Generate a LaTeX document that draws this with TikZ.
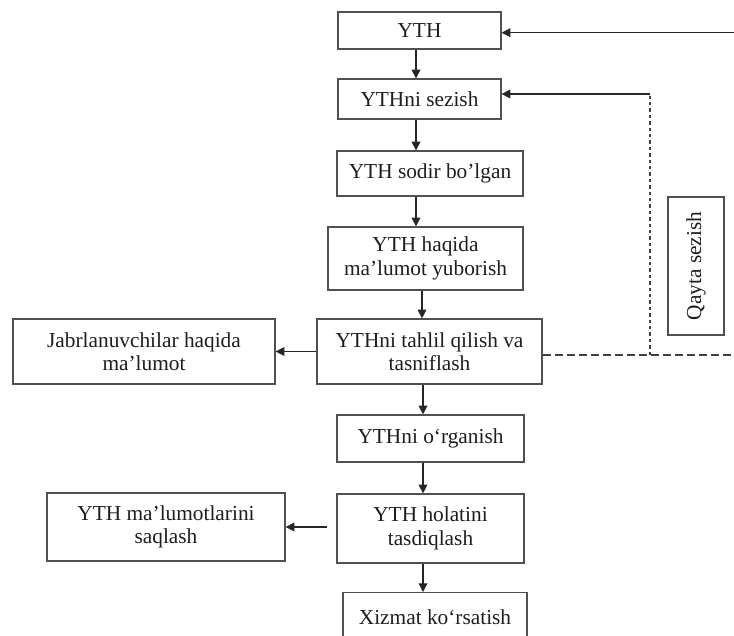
\documentclass[tikz,border=0pt]{standalone}
\usepackage{fontspec}
\setmainfont{Liberation Serif}
\usetikzlibrary{arrows.meta}
\newcommand\myu{0.75pt}
\definecolor{linec}{HTML}{505050}
\definecolor{textc}{HTML}{1E1E1E}
\begin{document}
\begin{tikzpicture}[x=0.75pt,y=-0.75pt,
  box/.style={draw=linec, line width=0.9pt, align=center, inner sep=0pt, text=textc,
    font=\fontsize{16}{17.5}\selectfont},
  arr/.style={draw=black!85, line width=0.9pt, -{Triangle[length=6.5pt,width=6.5pt]}},
  dashH/.style={draw=black!75, line width=1.3pt, dash pattern=on 6pt off 3pt},
  dashV/.style={draw=black!75, line width=1.5pt, dash pattern=on 2.6pt off 2.2pt}]
\useasboundingbox (0,0) rectangle (734,635);
\clip (0,0) rectangle (734,635);
\fill[white] (0,0) rectangle (734,635);

\node[box, minimum width=163*\myu, minimum height=37*\myu] (yth) at (419.5,30.5) {YTH};
\node[box, minimum width=163*\myu, minimum height=40*\myu] (sez) at (419.5,99) {YTHni sezish};
\node[box, minimum width=186*\myu, minimum height=45*\myu] (sodir) at (430,173.5) {YTH sodir bo’lgan};
\node[box, minimum width=195*\myu, minimum height=63*\myu] (haqida) at (425.5,258.5) {YTH haqida\\ma’lumot yuborish};
\node[box, minimum width=225*\myu, minimum height=65*\myu] (tahlil) at (429.5,351.5) {YTHni tahlil qilish va\\tasniflash};
\node[box, minimum width=262*\myu, minimum height=65*\myu] (jabr) at (144,351.5) {Jabrlanuvchilar haqida\\ma’lumot};
\node[box, minimum width=187*\myu, minimum height=47*\myu] (organ) at (430.5,438.5) {YTHni o‘rganish};
\node[box, minimum width=187*\myu, minimum height=69*\myu] (holat) at (430.5,528.5) {YTH holatini\\tasdiqlash};
\node[box, minimum width=238*\myu, minimum height=68*\myu] (saqlash) at (166,527) {YTH ma’lumotlarini\\saqlash};
\node[box, minimum width=184*\myu, minimum height=56*\myu, anchor=north] (xizmat) at (435,592) {\raisebox{6pt}{Xizmat ko‘rsatish}};
\node[box, rotate=90, minimum width=138*\myu, minimum height=56*\myu] (qayta) at (696,266) {Qayta sezish};

\coordinate (a1) at (416,0);
\coordinate (a2) at (422,0);
\coordinate (a3) at (423,0);
\draw[arr] (yth.south -| a1) -- (sez.north -| a1);
\draw[arr] (sez.south -| a1) -- (sodir.north -| a1);
\draw[arr] (sodir.south -| a1) -- (haqida.north -| a1);
\draw[arr] (haqida.south -| a2) -- (tahlil.north -| a2);
\draw[arr] (tahlil.south -| a3) -- (organ.north -| a3);
\draw[arr] (organ.south -| a3) -- (holat.north -| a3);
\draw[arr] (holat.south -| a3) -- (xizmat.north -| a3);
\draw[arr] (tahlil.west) -- (jabr.east);
\draw[arr, shorten <=6.75pt] (holat.west |- saqlash.east) -- (saqlash.east);

\coordinate (tr) at (734,32.7);
\coordinate (dc) at (650,355);
\coordinate (br) at (734,355);
\coordinate (tc) at (650,94);
\draw[arr] (tr) -- (tr -| yth.east);
\draw[dashH] (tahlil.east |- br) -- (br);
\draw[dashV] (dc) -- (tc);
\draw[arr] (tc) -- (tc -| sez.east);
\end{tikzpicture}
\end{document}
